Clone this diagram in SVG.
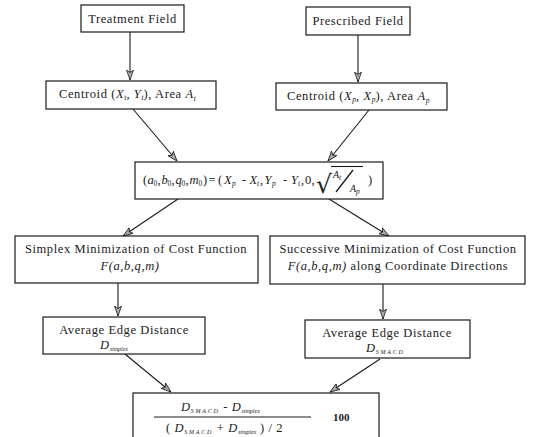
<svg xmlns="http://www.w3.org/2000/svg" width="538" height="437" viewBox="0 0 538 437" xml:space="preserve">
<defs>
<style>
.box{fill:#fff;stroke:#1a1a1a;stroke-width:1.2}
.t{font-family:"Liberation Serif","Times New Roman",serif;font-size:12.5px;fill:#1a1a1a;letter-spacing:0.6px}
.c{text-anchor:middle}
.i{font-style:italic}
.s{font-size:7.5px;letter-spacing:0}
.sc{font-size:6px;letter-spacing:1.8px;font-style:italic}
.con line{stroke:#1a1a1a;stroke-width:1.1;marker-end:url(#ah)}
</style>
<marker id="ah" viewBox="0 0 10 8" refX="10" refY="4" markerWidth="10" markerHeight="8" orient="auto" markerUnits="userSpaceOnUse">
<path d="M0,0.5 L10,4 L0,7.5 L2.5,4 z" fill="#aaa" stroke="#1a1a1a" stroke-width="0.8"/>
</marker>
</defs>
<rect width="538" height="437" fill="#fff"/>

<g id="connectors" class="con">
<line x1="130" y1="32" x2="130" y2="80"/>
<line x1="358" y1="35" x2="358" y2="82"/>
<line x1="133" y1="109" x2="177" y2="161"/>
<line x1="369" y1="110" x2="328" y2="161"/>
<line x1="178" y1="199" x2="123" y2="236"/>
<line x1="329" y1="199" x2="389" y2="236"/>
<line x1="118" y1="283" x2="118" y2="316"/>
<line x1="383" y1="284" x2="383" y2="319"/>
<line x1="125" y1="354" x2="171" y2="392"/>
<line x1="380" y1="359" x2="330" y2="392"/>
</g>

<g id="treatment-field">
<rect class="box" x="81" y="5" width="103" height="27"/>
<text class="t c" x="132.5" y="23">Treatment Field</text>
</g>

<g id="prescribed-field">
<rect class="box" x="306" y="7" width="104" height="28"/>
<text class="t c" x="358" y="25">Prescribed Field</text>
</g>

<g id="centroid-t">
<rect class="box" x="46" y="81" width="170" height="28"/>
<text class="t" x="59" y="98">Centroid (<tspan class="i">X</tspan><tspan class="s i" dy="2">t</tspan><tspan dy="-2">, </tspan><tspan class="i">Y</tspan><tspan class="s i" dy="2">t</tspan><tspan dy="-2">), Area  </tspan><tspan class="i">A</tspan><tspan class="s i" dy="3">t</tspan></text>
</g>

<g id="centroid-p">
<rect class="box" x="276" y="83" width="171" height="27"/>
<text class="t" x="287" y="100">Centroid  (<tspan class="i">X</tspan><tspan class="s i" dy="2">p</tspan><tspan dy="-2">, </tspan><tspan class="i">X</tspan><tspan class="s i" dy="2">p</tspan><tspan dy="-2">), Area  </tspan><tspan class="i">A</tspan><tspan class="s i" dy="3">p</tspan></text>
</g>

<g id="initial-params">
<rect class="box" x="135" y="162" width="248" height="37"/>
<text class="t" y="184" style="letter-spacing:0"><tspan x="143">(</tspan><tspan class="i" x="147.5">a</tspan><tspan class="s" x="153.5" y="186">0</tspan><tspan x="157.5" y="184">,</tspan><tspan class="i" x="161.5">b</tspan><tspan class="s" x="167.5" y="186">0</tspan><tspan x="171.5" y="184">,</tspan><tspan class="i" x="175.5">q</tspan><tspan class="s" x="181.5" y="186">0</tspan><tspan x="185.5" y="184">,</tspan><tspan class="i" x="189.5">m</tspan><tspan class="s" x="198.5" y="186">0</tspan><tspan x="203" y="184">)</tspan><tspan x="208.5">=</tspan><tspan x="218">(</tspan><tspan class="i" x="224">X</tspan><tspan class="s i" x="232" y="186">p</tspan><tspan x="242" y="184">-</tspan><tspan class="i" x="249.5">X</tspan><tspan class="s i" x="257" y="186">t</tspan><tspan x="260" y="184">,</tspan><tspan class="i" x="264.5">Y</tspan><tspan class="s i" x="272" y="186">p</tspan><tspan x="283" y="184">-</tspan><tspan class="i" x="291">Y</tspan><tspan class="s i" x="298" y="186">t</tspan><tspan x="301" y="184">,</tspan><tspan x="305">0</tspan><tspan x="311.5">,</tspan></text>
<text x="316" y="193" style="font-family:'DejaVu Sans',sans-serif;font-size:25px;fill:#1a1a1a">√</text>
<line x1="331" y1="166.5" x2="363" y2="166.5" stroke="#1a1a1a" stroke-width="1.1"/>
<line x1="336" y1="192" x2="353" y2="170" stroke="#1a1a1a" stroke-width="1.3"/>
<text class="t i" x="333" y="178" style="font-size:10px;letter-spacing:0">A<tspan class="s" dy="2">t</tspan></text>
<text class="t i" x="350" y="192" style="font-size:10px;letter-spacing:0">A<tspan class="s" dy="2">p</tspan></text>
<text class="t" x="368" y="184">)</text>
</g>

<g id="simplex-min">
<rect class="box" x="15" y="236" width="243" height="47"/>
<text class="t c" x="136" y="253">Simplex Minimization of Cost Function</text>
<text class="t c i" x="130" y="270">F(a,b,q,m)</text>
</g>

<g id="successive-min">
<rect class="box" x="270" y="236" width="255" height="48"/>
<text class="t c" x="398" y="253">Successive Minimization of Cost Function</text>
<text class="t c" x="398" y="270"><tspan class="i">F(a,b,q,m)</tspan> along Coordinate Directions</text>
</g>

<g id="avg-simplex">
<rect class="box" x="43" y="317" width="162" height="37"/>
<text class="t c" x="124" y="334">Average Edge Distance</text>
<text class="t i" x="100" y="349">D<tspan class="s" dy="2" style="font-size:6px">simplex</tspan></text>
</g>

<g id="avg-smacd">
<rect class="box" x="305" y="320" width="165" height="38"/>
<text class="t c" x="387" y="337">Average Edge Distance</text>
<text class="t i" x="366" y="352">D<tspan class="sc" dy="2">SMACD</tspan></text>
</g>

<g id="relative-difference">
<rect class="box" x="133" y="393" width="246" height="55"/>
<text class="t i" x="181" y="411">D<tspan class="sc" dy="2">SMACD</tspan><tspan dy="-2" style="font-style:normal">   -   </tspan>D<tspan class="s" dy="2" style="font-size:6px">simplex</tspan></text>
<line x1="154" y1="417" x2="311" y2="417" stroke="#1a1a1a" stroke-width="1"/>
<text class="t" x="166" y="432">( <tspan class="i">D</tspan><tspan class="sc" dy="2">SMACD</tspan><tspan dy="-2">   +  </tspan><tspan class="i">D</tspan><tspan class="s i" dy="2" style="font-size:6px">simplex</tspan><tspan dy="-2"> ) / 2</tspan></text>
<text class="t" x="333" y="421" style="font-weight:bold;font-size:11px;letter-spacing:0">100</text>
</g>
</svg>
